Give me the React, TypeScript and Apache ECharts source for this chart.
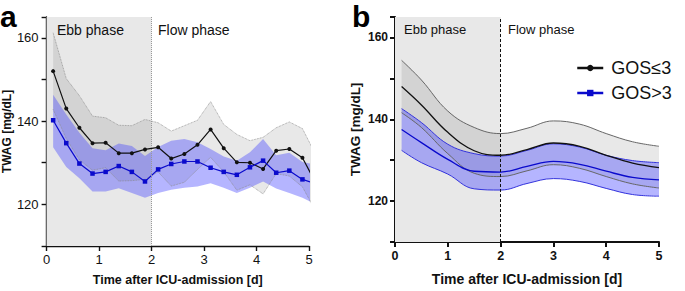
import React, { useEffect, useRef } from "react";
import * as echarts from "echarts";

// ---------- Panel a (raw time course, 6-h bins) ----------
const timeA = [0.125, 0.375, 0.625, 0.875, 1.125, 1.375, 1.625, 1.875, 2.125, 2.375, 2.625, 2.875, 3.125, 3.375, 3.625, 3.875, 4.125, 4.375, 4.625, 4.875, 5.125];
const gosLowMeanA = [152.0, 143.0, 138.4, 134.7, 134.8, 132.3, 132.3, 133.2, 133.7, 131.0, 132.1, 134.3, 138.0, 133.5, 130.1, 130.0, 128.5, 132.9, 133.3, 131.2, 125.2];
const gosLowUpperA = [161.2, 150.2, 146.1, 141.2, 140.8, 139.0, 138.9, 140.4, 139.6, 137.6, 138.9, 140.2, 144.7, 139.2, 136.8, 135.3, 136.1, 138.4, 139.8, 138.2, 132.0];
const gosLowLowerA = [142.8, 135.8, 130.7, 128.2, 128.8, 125.6, 125.7, 126.0, 127.8, 124.4, 125.3, 128.4, 131.3, 127.8, 123.4, 124.7, 122.5, 127.4, 126.8, 124.2, 118.4];
const gosHighMeanA = [140.2, 134.7, 129.8, 127.4, 127.8, 129.2, 127.8, 125.5, 128.4, 129.7, 130.3, 130.3, 128.8, 127.8, 127.1, 128.9, 130.5, 127.6, 128.1, 126.0, 125.0];
const gosHighUpperA = [146.3, 141.6, 137.2, 133.5, 133.0, 134.6, 134.0, 131.6, 133.8, 135.3, 135.7, 134.9, 133.3, 131.5, 130.5, 132.5, 135.7, 131.8, 132.4, 130.2, 129.5];
const gosHighLowerA = [133.7, 129.0, 126.3, 123.1, 123.1, 123.9, 122.7, 121.6, 122.7, 123.5, 124.0, 124.3, 125.1, 124.0, 122.7, 124.0, 125.5, 123.8, 122.7, 121.6, 120.0];

// ---------- Panel b (fitted model curves) ----------
const timeB = [0.125, 0.5, 1.0, 1.5, 2.0, 2.5, 3.0, 3.5, 4.0, 4.5, 5.0];
const gosLowMeanB = [148.0, 143.5, 136.8, 132.3, 131.2, 132.6, 134.2, 133.4, 131.2, 129.3, 128.2];
const gosLowUpperB = [154.4, 149.6, 142.0, 138.0, 136.5, 137.8, 139.6, 138.8, 136.5, 134.5, 133.4];
const gosLowLowerB = [141.6, 138.0, 131.6, 126.8, 126.0, 127.4, 128.9, 128.0, 126.0, 124.2, 123.2];
const gosHighMeanB = [137.5, 134.3, 130.2, 127.3, 127.1, 128.5, 129.7, 129.0, 127.3, 125.8, 125.2];
const gosHighUpperB = [142.6, 139.2, 133.9, 131.6, 131.0, 132.4, 134.0, 133.2, 131.2, 129.9, 129.4];
const gosHighLowerB = [132.4, 129.4, 126.6, 123.0, 122.7, 124.3, 125.5, 124.8, 123.1, 121.6, 121.2];

const yTickLabels = [120, 140, 160];
const phaseBoundary = 2;
const groupNames = ["GOS\u22643", "GOS>3"];

const FONT = 'Arial, "Liberation Sans", Helvetica, sans-serif';

function pairs(t: number[], v: number[]) {
  return t.map((x, i) => [x, v[i]]);
}

function band(id: string, axisIdx: number, t: number[], lo: number[], up: number[], fill: string, line: any, smooth: boolean | number) {
  // data stored as [value, time] so the stacked dimension is the y value
  return [
    {
      type: "line",
      xAxisIndex: axisIdx,
      yAxisIndex: axisIdx,
      stack: id,
      encode: { x: 1, y: 0 },
      data: t.map((x, i) => [lo[i], x]),
      symbol: "none",
      smooth,
      lineStyle: line,
      silent: true,
      z: 2,
    },
    {
      type: "line",
      xAxisIndex: axisIdx,
      yAxisIndex: axisIdx,
      stack: id,
      encode: { x: 1, y: 0 },
      data: t.map((x, i) => [up[i] - lo[i], x]),
      symbol: "none",
      smooth,
      lineStyle: line,
      areaStyle: { color: fill, opacity: 1 },
      silent: true,
      z: 2,
    },
  ];
}

function phaseSeries(axisIdx: number, lineStyle: any) {
  return [
    {
      type: "line",
      xAxisIndex: axisIdx,
      yAxisIndex: axisIdx,
      data: [],
      silent: true,
      markArea: {
        silent: true,
        itemStyle: { color: "#e8e8e8" },
        data: [[{ xAxis: 0 }, { xAxis: phaseBoundary }]],
      },
    },
    {
      type: "line",
      xAxisIndex: axisIdx,
      yAxisIndex: axisIdx,
      data: [],
      silent: true,
      markLine: {
        silent: true,
        symbol: "none",
        label: { show: false },
        lineStyle,
        data: [{ xAxis: phaseBoundary }],
      },
    },
  ];
}

function xAxisCfg(gridIndex: number, labelSize: number, bold: boolean, nameSize: number, lineW: number, nameGap: number) {
  return {
    type: "value",
    gridIndex,
    min: 0,
    max: 5,
    interval: 1,
    name: "Time after ICU-admission [d]",
    nameLocation: "middle",
    nameGap,
    nameTextStyle: { fontFamily: FONT, fontWeight: "bold", fontSize: nameSize, color: "#111" },
    axisLine: { show: true, onZero: false, lineStyle: { color: "#111", width: lineW } },
    axisTick: { show: true, length: 5, lineStyle: { color: "#111", width: lineW } },
    axisLabel: { fontFamily: FONT, fontSize: labelSize, fontWeight: bold ? "bold" : "normal", color: "#111", margin: 7 },
    splitLine: { show: false },
  };
}

function yAxisCfg(gridIndex: number, labelSize: number, bold: boolean, nameSize: number, lineW: number, nameGap: number, margin: number) {
  return {
    type: "value",
    gridIndex,
    min: 110,
    max: 165,
    interval: 10,
    name: "TWAG [mg/dL]",
    nameLocation: "middle",
    nameGap,
    nameTextStyle: { fontFamily: FONT, fontWeight: "bold", fontSize: nameSize, color: "#111" },
    axisLine: { show: true, onZero: false, lineStyle: { color: "#111", width: lineW } },
    axisTick: { show: true, length: 5, lineStyle: { color: "#111", width: lineW } },
    axisLabel: {
      fontFamily: FONT,
      fontSize: labelSize,
      fontWeight: bold ? "bold" : "normal",
      color: "#111",
      margin,
      formatter: (v: number) => (yTickLabels.includes(v) ? String(v) : ""),
    },
    splitLine: { show: false },
  };
}

export default function App() {
  const ref = useRef<HTMLDivElement>(null);
  useEffect(() => {
    if (!ref.current) return;
    const chart = echarts.init(ref.current, null, { renderer: "svg" });
    const dottedGray = { color: "#8c8c8c", width: 0.8, type: "dotted" };
    const noLine = { width: 0, opacity: 0 };
    const option: any = {
      animation: false,
      backgroundColor: "#ffffff",
      grid: [
        { left: 45, top: 17, width: 264, height: 234 },
        { left: 395, top: 17, width: 264, height: 234 },
      ],
      xAxis: [xAxisCfg(0, 13, false, 12.5, 1.4, 27), xAxisCfg(1, 12.5, true, 14, 2, 30)],
      yAxis: [yAxisCfg(0, 13, false, 12, 1.4, 24, 8), yAxisCfg(1, 12, true, 13.5, 2, 33, 7)],
      legend: {
        left: 571,
        top: 54,
        orient: "vertical",
        itemGap: 7,
        itemWidth: 26,
        itemHeight: 8,
        selectedMode: false,
        data: groupNames,
        textStyle: { fontFamily: FONT, fontSize: 18, color: "#111", padding: [0, 0, 0, 3] },
        lineStyle: { width: 2.5 },
      },
      graphic: [
        { type: "text", z: 50, left: 0, top: 1, style: { text: "a", font: `bold 30px ${FONT}`, fill: "#000" } },
        { type: "text", z: 50, left: 352, top: 1, style: { text: "b", font: `bold 30px ${FONT}`, fill: "#000" } },
        { type: "text", z: 50, x: 57, y: 30, style: { text: "Ebb phase", font: `14px ${FONT}`, fill: "#111", verticalAlign: "middle" } },
        { type: "text", z: 50, x: 158, y: 30, style: { text: "Flow phase", font: `14px ${FONT}`, fill: "#111", verticalAlign: "middle" } },
        { type: "text", z: 50, x: 404, y: 29, style: { text: "Ebb phase", font: `13px ${FONT}`, fill: "#111", verticalAlign: "middle" } },
        { type: "text", z: 50, x: 508, y: 29, style: { text: "Flow phase", font: `13px ${FONT}`, fill: "#111", verticalAlign: "middle" } },
      ],
      series: [
        ...phaseSeries(0, { color: "#999", width: 1, type: "dotted" }),
        ...band("gA", 0, timeA, gosLowLowerA, gosLowUpperA, "rgba(0,0,0,0.09)", dottedGray, false),
        ...band("bA", 0, timeA, gosHighLowerA, gosHighUpperA, "rgba(70,70,255,0.4)", noLine, false),
        {
          name: groupNames[0],
          type: "line",
          xAxisIndex: 0,
          yAxisIndex: 0,
          data: pairs(timeA, gosLowMeanA),
          symbol: "circle",
          symbolSize: 4,
          itemStyle: { color: "#111" },
          lineStyle: { color: "#111", width: 1.2 },
          z: 3,
        },
        {
          name: groupNames[1],
          type: "line",
          xAxisIndex: 0,
          yAxisIndex: 0,
          data: pairs(timeA, gosHighMeanA),
          symbol: "rect",
          symbolSize: 4.5,
          itemStyle: { color: "#0a0acc" },
          lineStyle: { color: "#0a0acc", width: 1.2 },
          z: 3,
        },
        ...phaseSeries(1, { color: "#111", width: 1, type: [3, 2] }),
        ...band("gB", 1, timeB, gosLowLowerB, gosLowUpperB, "rgba(0,0,0,0.09)", { color: "#666", width: 1 }, 0.4),
        ...band("bB", 1, timeB, gosHighLowerB, gosHighUpperB, "rgba(70,70,255,0.4)", { color: "#3232dc", width: 1 }, 0.4),
        {
          type: "line",
          xAxisIndex: 1,
          yAxisIndex: 1,
          data: pairs(timeB, gosLowMeanB),
          symbol: "none",
          smooth: 0.4,
          lineStyle: { color: "#111", width: 1.3 },
          z: 3,
        },
        {
          type: "line",
          xAxisIndex: 1,
          yAxisIndex: 1,
          data: pairs(timeB, gosHighMeanB),
          symbol: "none",
          smooth: 0.4,
          lineStyle: { color: "#0a0acc", width: 1.3 },
          z: 3,
        },
      ],
    };
    chart.setOption(option);
    return () => chart.dispose();
  }, []);
  return <div ref={ref} style={{ position: "absolute", left: 0, top: 0, width: 685, height: 291 }} />;
}
